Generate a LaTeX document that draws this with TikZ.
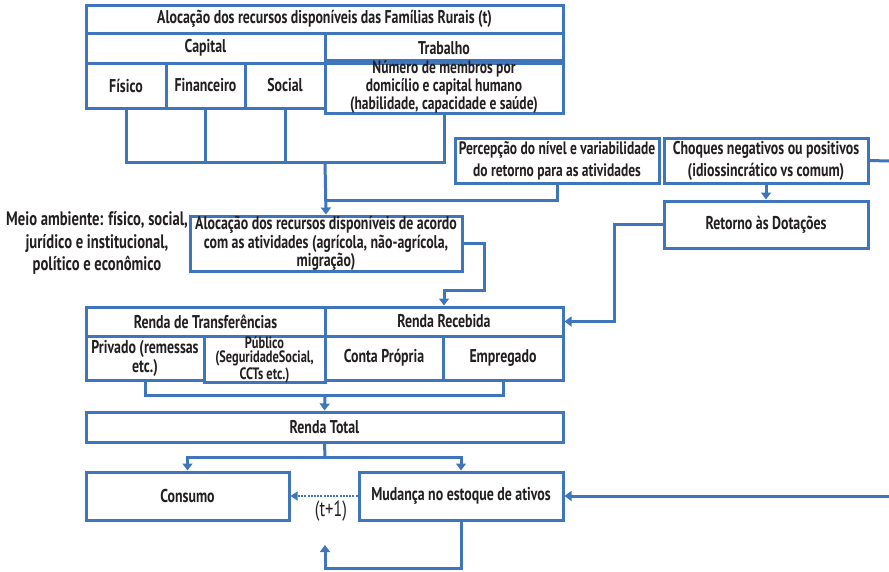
\documentclass[tikz,border=0pt]{standalone}
\usepackage{fontspec}
\setmainfont{PT Sans}[FakeStretch=0.75]
\usetikzlibrary{arrows.meta}
\definecolor{bl}{RGB}{62,117,188}
\definecolor{tx}{RGB}{35,31,32}
\tikzset{
  txt/.style={font=\fontsize{18.5}{16}\selectfont\bfseries, text=tx},
  cell/.style={txt, draw=bl, line width=3pt, inner sep=0pt, align=center},
  wire/.style={draw=bl, line width=3pt},
  arr/.style={wire, -{Triangle[length=7pt,width=10pt]}},
  dasharr/.style={draw=bl, line width=1.3pt, dash pattern=on 2pt off 1.2pt, -{Triangle[length=7pt,width=9pt]}},
}
\begin{document}
\begin{tikzpicture}[x=1pt,y=-1pt]
\useasboundingbox (0,0) rectangle (889,571);
% top table
\node[cell, minimum width=477pt, minimum height=28pt] (title) at (324.5,19) {Alocação dos recursos disponíveis das Famílias Rurais (t)};
\node[cell, minimum width=239pt, minimum height=30pt] (capital) at (205.5,48) {Capital};
\node[cell, minimum width=238pt, minimum height=30pt] (trabalho) at (444,48) {Trabalho};
\node[cell, minimum width=80pt, minimum height=45pt] (fisico) at (126,85.5) {Físico};
\node[cell, minimum width=79pt, minimum height=45pt] (financeiro) at (205.5,85.5) {Financeiro};
\node[cell, minimum width=80pt, minimum height=45pt] (social) at (285,85.5) {Social};
\node[cell, minimum width=238pt, minimum height=45pt, font=\fontsize{18}{13.5}\selectfont\bfseries] (numero) at (444,87) {Número de membros por\\domicílio e capital humano\\(habilidade, capacidade e saúde)};
% side boxes
\node[cell, minimum width=204pt, minimum height=45pt, font=\fontsize{18}{22}\selectfont\bfseries] (percep) at (557,160.5) {Percepção do nível e variabilidade\\do retorno para as atividades};
\node[cell, minimum width=204pt, minimum height=45pt, font=\fontsize{18.5}{22}\selectfont\bfseries] (choques) at (766,160.5) {Choques negativos ou positivos\\(idiossincrático vs comum)};
\node[cell, minimum width=204pt, minimum height=47pt] (retorno) at (766,224.5) {Retorno às Dotações};
% allocation
\node[cell, minimum width=272pt, minimum height=55pt, font=\fontsize{18.5}{16}\selectfont\bfseries] (aloc) at (326,243.5) {Alocação dos recursos disponíveis de acordo\\com as atividades (agrícola, não-agrícola,\\migração)};
\node[txt, align=center, font=\fontsize{19.5}{22.5}\selectfont\bfseries] (meio) at (97,243) {Meio ambiente: físico, social,\\jurídico e institucional,\\político e econômico};
% income table
\node[cell, minimum width=239pt, minimum height=29pt] (transf) at (205.5,321.5) {Renda de Transferências};
\node[cell, minimum width=238pt, minimum height=29pt] (recebida) at (444,321.5) {Renda Recebida};
\node[cell, minimum width=118pt, minimum height=44pt, font=\fontsize{18.5}{19}\selectfont\bfseries] (privado) at (145,358) {Privado (remessas\\etc.)};
\node[cell, minimum width=121pt, minimum height=44pt, font=\fontsize{16.5}{14.5}\selectfont\bfseries] (publico) at (264.5,359.5) {Público\\(SeguridadeSocial,\\CCTs etc.)};
\node[cell, minimum width=118pt, minimum height=44pt] (conta) at (384,358) {Conta Própria};
\node[cell, minimum width=120pt, minimum height=44pt] (empregado) at (503,358) {Empregado};
\node[cell, minimum width=477pt, minimum height=30pt] (total) at (324.5,427) {Renda Total};
\node[cell, minimum width=203pt, minimum height=48pt] (consumo) at (187.5,496) {Consumo};
\node[cell, minimum width=204pt, minimum height=48pt] (mudanca) at (461,496) {Mudança no estoque de ativos};
% coordinates
\coordinate (bus1) at (325,162);
\coordinate (j2) at (325,200);
\coordinate (c1) at (484,290);
\coordinate (c2) at (614,280);
\coordinate (bus2) at (325,395);
\coordinate (bus3) at (325,457);
\coordinate (c3) at (325,568);
\coordinate (loopend) at (325,545);
\coordinate (rightA) at (889,161);
\coordinate (rightB) at (889,496);
% connectors
\draw[wire] (fisico.south) |- (bus1) -| (numero.south);
\draw[wire] (financeiro.south) -- (financeiro.south |- bus1);
\draw[wire] (social.south) -- (social.south |- bus1);
\draw[arr] (bus1) -- (aloc.north);
\draw[wire] (percep.south) |- (j2);
\draw[wire] (choques.east) -- (rightA);
\draw[arr] (choques.south) -- (retorno.north);
\draw[arr] (aloc.east) -| (c1) -| (recebida.north);
\draw[arr] (retorno.west) -| (c2) |- (recebida.east);
\draw[wire] (privado.south) |- (bus2) -| (empregado.south);
\draw[arr] (bus2) -- (total.north);
\draw[wire] (total.south) -- (bus3);
\draw[arr] (bus3) -| (consumo.north);
\draw[arr] (bus3) -| (mudanca.north);
\draw[dasharr] (mudanca.west) -- (consumo.east) node[midway, below=1pt, xshift=7pt, text=tx, font=\fontsize{22}{18}\selectfont] {(t+1)};
\draw[arr] (mudanca.south) |- (c3) -- (loopend);
\draw[arr] (rightB) -- (mudanca.east);
\end{tikzpicture}
\end{document}
